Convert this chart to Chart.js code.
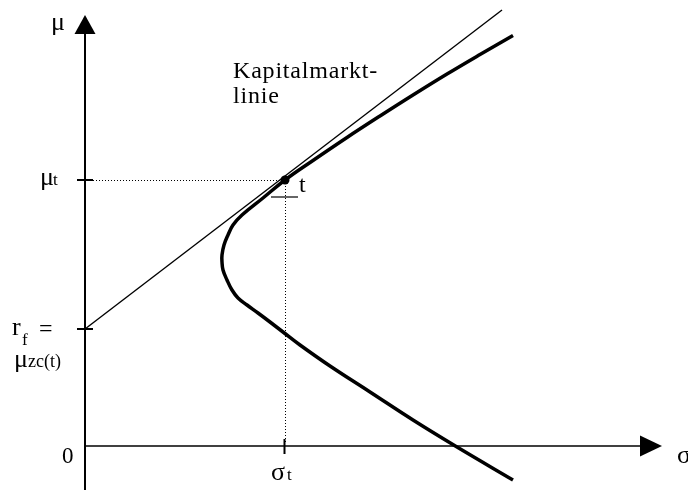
<!DOCTYPE html>
<html>
<head>
<meta charset="utf-8">
<style>
  html, body { margin: 0; padding: 0; background: #fff; }
  #c { display: block; }
</style>
<script src="https://cdn.jsdelivr.net/npm/chart.js@4.4.1/dist/chart.umd.min.js"></script>
</head>
<body>
<canvas id="c" width="688" height="490"></canvas>
<script>
// Efficient frontier (hyperbola) in (sigma, mu)
const frontierSigma = [4.28, 3.95, 3.62, 3.28, 2.95, 2.62, 2.28, 2.00, 1.78, 1.57, 1.48, 1.43, 1.39, 1.37, 1.37, 1.38, 1.42, 1.47, 1.53, 1.62, 1.73, 1.85, 1.98, 2.15, 2.45, 2.85, 3.28, 3.72, 4.28];
const frontierMu    = [4.105, 3.915, 3.72, 3.51, 3.30, 3.085, 2.855, 2.66, 2.48, 2.31, 2.21, 2.11, 2.01, 1.91, 1.84, 1.76, 1.66, 1.56, 1.48, 1.41, 1.33, 1.24, 1.14, 1.01, 0.80, 0.54, 0.26, -0.01, -0.34];
// Capital market line
const cmlSigma = [0, 4.17];
const cmlMu    = [1.17, 4.36];
// Tangency portfolio t and risk-free rate
const tangentSigma = [2.00];
const tangentMu    = [2.66];
const riskFree = 1.17;
// Axis labels
const yAxisTickLabels = ["μ", "t", "r", "f", "=", "μ", "zc(t)", "0"];
const xAxisTickLabels = ["σ", "t", "σ"];
const annotationLines = ["Kapitalmarkt-", "linie"];

function pts(xs, ys) { return xs.map((x, i) => ({ x: x, y: ys[i] })); }

const SERIF = '"Liberation Serif", "Times New Roman", serif';

const diagramPlugin = {
  id: 'diagram',
  beforeDatasetsDraw(chart) {
    const ctx = chart.ctx;
    const X = v => chart.scales.x.getPixelForValue(v);
    const Y = v => chart.scales.y.getPixelForValue(v);
    const x0 = X(0), y0 = Y(0);
    const xt = X(tangentSigma[0]), yt = Y(tangentMu[0]);
    const yr = Y(riskFree);
    ctx.save();
    // dotted guide lines
    ctx.strokeStyle = '#000';
    ctx.lineWidth = 1;
    ctx.setLineDash([1, 2]);
    ctx.beginPath();
    ctx.moveTo(x0 + 8, yt + 0.5); ctx.lineTo(xt, yt + 0.5);
    ctx.moveTo(xt + 0.5, yt); ctx.lineTo(xt + 0.5, y0 - 2);
    ctx.stroke();
    ctx.setLineDash([]);
    // axes
    ctx.lineWidth = 2;
    ctx.beginPath();
    ctx.moveTo(x0, chart.height); ctx.lineTo(x0, Y(4.12));
    ctx.stroke();
    ctx.lineWidth = 1.6;
    ctx.beginPath();
    ctx.moveTo(x0, y0); ctx.lineTo(X(5.56), y0);
    ctx.stroke();
    // arrows
    ctx.fillStyle = '#000';
    ctx.beginPath();
    ctx.moveTo(x0, Y(4.31)); ctx.lineTo(x0 - 10.5, Y(4.12)); ctx.lineTo(x0 + 10.5, Y(4.12)); ctx.closePath();
    ctx.fill();
    ctx.beginPath();
    ctx.moveTo(X(5.77), y0); ctx.lineTo(X(5.55), y0 - 10.5); ctx.lineTo(X(5.55), y0 + 10.5); ctx.closePath();
    ctx.fill();
    // ticks
    ctx.lineWidth = 2;
    ctx.beginPath();
    ctx.moveTo(x0 - 8, yt); ctx.lineTo(x0 + 8, yt);
    ctx.moveTo(x0 - 8, yr); ctx.lineTo(x0 + 8, yr);
    ctx.moveTo(xt - 0.5, y0 - 7); ctx.lineTo(xt - 0.5, y0 + 8);
    ctx.stroke();
    ctx.strokeStyle = '#333';
    ctx.lineWidth = 1.5;
    ctx.beginPath();
    ctx.moveTo(xt - 14, yt + 17); ctx.lineTo(xt + 13, yt + 17);
    ctx.stroke();
    ctx.restore();
  },
  afterDatasetsDraw(chart) {
    const ctx = chart.ctx;
    const X = v => chart.scales.x.getPixelForValue(v);
    const Y = v => chart.scales.y.getPixelForValue(v);
    const x0 = X(0), y0 = Y(0);
    const xt = X(tangentSigma[0]), yt = Y(tangentMu[0]);
    const yr = Y(riskFree);
    ctx.save();
    ctx.fillStyle = '#000';
    ctx.textAlign = 'left';
    ctx.textBaseline = 'alphabetic';
    const big = '26px ' + SERIF, mid = '24px ' + SERIF, small = '17px ' + SERIF;
    // mu axis label
    ctx.font = big;
    ctx.fillText(yAxisTickLabels[0], x0 - 34, Y(4.16));
    // mu_t
    ctx.fillText(yAxisTickLabels[0], x0 - 45, yt + 5);
    ctx.font = small;
    ctx.fillText(yAxisTickLabels[1], x0 - 32, yt + 5);
    // r_f =
    ctx.font = big;
    ctx.fillText(yAxisTickLabels[2], x0 - 73, yr + 6);
    ctx.font = small;
    ctx.fillText(yAxisTickLabels[3], x0 - 63, yr + 16);
    ctx.font = mid;
    ctx.fillText(yAxisTickLabels[4], x0 - 46, yr + 7);
    // mu_zc(t)
    ctx.font = big;
    ctx.fillText(yAxisTickLabels[5], x0 - 71, yr + 38);
    ctx.font = '18px ' + SERIF;
    ctx.fillText(yAxisTickLabels[6], x0 - 57, yr + 38);
    // zero
    ctx.font = '23px ' + SERIF;
    ctx.fillText(yAxisTickLabels[7], x0 - 23, y0 + 17);
    // sigma_t
    ctx.font = big;
    ctx.fillText(xAxisTickLabels[0], xt - 14, y0 + 34);
    ctx.font = small;
    ctx.fillText(xAxisTickLabels[1], xt + 2, y0 + 34);
    // sigma axis label
    ctx.font = big;
    ctx.fillText(xAxisTickLabels[2], X(5.92), y0 + 17);
    // t label
    ctx.font = mid;
    ctx.fillText('t', xt + 14, yt + 12);
    // Kapitalmarktlinie
    ctx.font = mid;
    ctx.letterSpacing = '0.8px';
    ctx.fillText(annotationLines[0], X(1.48), Y(3.68));
    ctx.fillText(annotationLines[1], X(1.48), Y(3.43));
    ctx.restore();
  }
};

new Chart(document.getElementById('c'), {
  type: 'scatter',
  data: {
    datasets: [
      {
        data: pts(frontierSigma, frontierMu),
        showLine: true,
        borderColor: '#000',
        borderWidth: 3.5,
        pointRadius: 0,
        tension: 0.4,
        fill: false
      },
      {
        data: pts(cmlSigma, cmlMu),
        showLine: true,
        borderColor: '#000',
        borderWidth: 1.4,
        pointRadius: 0,
        tension: 0,
        fill: false
      },
      {
        data: pts(tangentSigma, tangentMu),
        showLine: false,
        pointRadius: 4.5,
        pointBackgroundColor: '#000',
        pointBorderColor: '#000',
        pointBorderWidth: 0
      }
    ]
  },
  options: {
    responsive: false,
    animation: false,
    devicePixelRatio: 1,
    layout: { padding: 0, autoPadding: false },
    plugins: { legend: { display: false }, tooltip: { enabled: false }, title: { display: false } },
    scales: {
      x: { type: 'linear', min: -0.85, max: 6.03, display: false },
      y: { type: 'linear', min: -0.44, max: 4.46, display: false }
    }
  },
  plugins: [diagramPlugin]
});
</script>
</body>
</html>
